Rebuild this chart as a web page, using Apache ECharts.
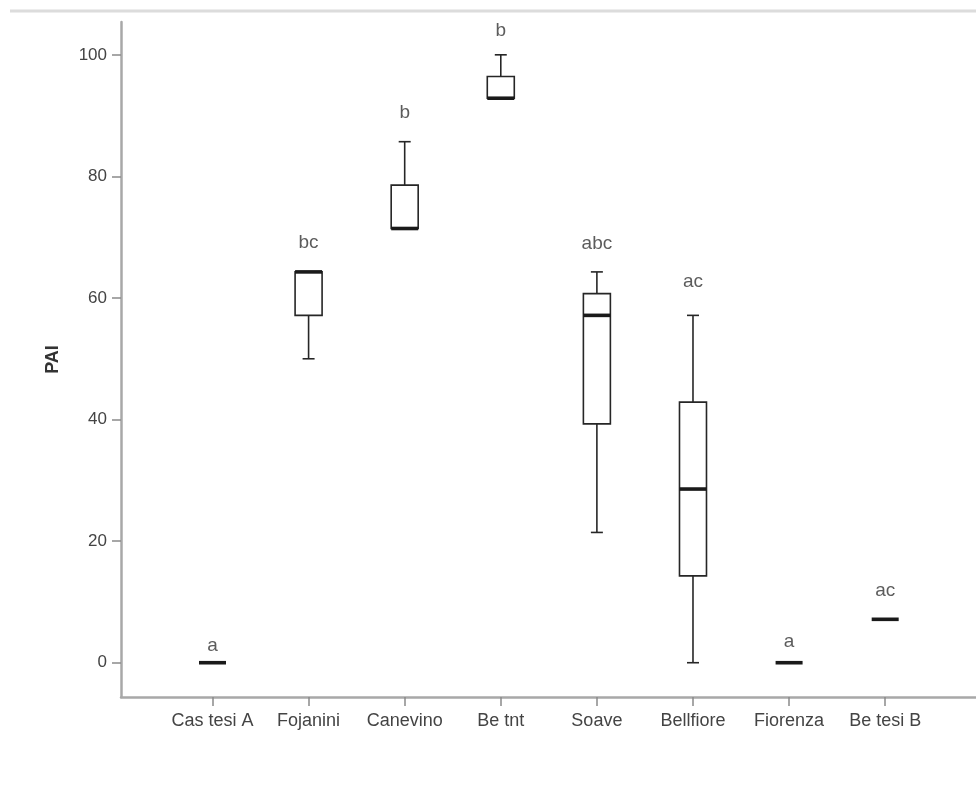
<!DOCTYPE html>
<html><head><meta charset="utf-8">
<script src="https://cdn.jsdelivr.net/npm/echarts@6/dist/echarts.min.js"></script>
<style>html,body{margin:0;padding:0;background:#fff}#c{width:976px;height:785px}</style>
</head><body><div id="c"></div>
<script>
const categories = ['Cas tesi A','Fojanini','Canevino','Be tnt','Soave','Bellfiore','Fiorenza','Be tesi B'];
const minVals    = [0, 50.00, 71.43, 92.86, 21.43, 0.00, 0, 7.14];
const q1Vals     = [0, 57.14, 71.43, 92.86, 39.29, 14.29, 0, 7.14];
const medianVals = [0, 64.29, 71.43, 92.86, 57.14, 28.57, 0, 7.14];
const q3Vals     = [0, 64.29, 78.57, 96.43, 60.71, 42.86, 0, 7.14];
const maxVals    = [0, 64.29, 85.71, 100.0, 64.29, 57.14, 0, 7.14];
const letters    = ['a','bc','b','b','abc','ac','a','ac'];
const letterY    = [2.8, 69.1, 90.4, 104.0, 68.9, 62.6, 3.4, 11.8];
const yTicks     = [0, 20, 40, 60, 80, 100];
const yName      = 'PAI';

const FONT = "'Liberation Sans', Arial, sans-serif";
const catIdx = categories.map((c, i) => i);
const boxData = categories.map((c, i) => [i, minVals[i], q1Vals[i], medianVals[i], q3Vals[i], maxVals[i]]);
const letterData = categories.map((c, i) => [i, letterY[i]]);

function renderItem(params, api) {
  const x = api.value(0);
  const mn = api.value(1), q1 = api.value(2), md = api.value(3), q3 = api.value(4), mx = api.value(5);
  const half = 13.5, cap = 6;
  const P = v => api.coord([x, v]);
  const pMin = P(mn), pQ1 = P(q1), pMd = P(md), pQ3 = P(q3), pMx = P(mx);
  const cx = pMd[0];
  const ls = { stroke: '#262626', lineWidth: 1.6, fill: null };
  const ch = [];
  if (mx > q3) {
    ch.push({ type: 'line', shape: { x1: cx, y1: pQ3[1], x2: cx, y2: pMx[1] }, style: ls });
    ch.push({ type: 'line', shape: { x1: cx - cap, y1: pMx[1], x2: cx + cap, y2: pMx[1] }, style: ls });
  }
  if (mn < q1) {
    ch.push({ type: 'line', shape: { x1: cx, y1: pQ1[1], x2: cx, y2: pMin[1] }, style: ls });
    ch.push({ type: 'line', shape: { x1: cx - cap, y1: pMin[1], x2: cx + cap, y2: pMin[1] }, style: ls });
  }
  if (q3 > q1) {
    ch.push({ type: 'rect', shape: { x: cx - half, y: pQ3[1], width: 2 * half, height: pQ1[1] - pQ3[1] },
      style: { fill: '#fff', stroke: '#262626', lineWidth: 1.6 } });
  }
  ch.push({ type: 'line', shape: { x1: cx - half, y1: pMd[1], x2: cx + half, y2: pMd[1] },
    style: { stroke: '#1a1a1a', lineWidth: 3.6 } });
  return { type: 'group', children: ch };
}

const chart = echarts.init(document.getElementById('c'), null, { renderer: 'canvas' });
chart.setOption({
  animation: false,
  backgroundColor: '#fff',
  graphic: [{ type: 'line', shape: { x1: 10, y1: 11, x2: 976, y2: 11 }, style: { stroke: '#dcdcdc', lineWidth: 3 } }],
  grid: { left: 121, right: 0, top: 22, bottom: 88, containLabel: false, outerBoundsMode: 'none' },
  xAxis: {
    type: 'value', min: -0.952, max: 7.945,
    splitLine: { show: false },
    axisLine: { show: true, onZero: false, lineStyle: { color: '#a8a8a8', width: 2.5 } },
    axisTick: { show: true, customValues: catIdx, length: 9, lineStyle: { color: '#8a8a8a', width: 1.5 } },
    axisLabel: { customValues: catIdx, formatter: v => categories[Math.round(v)], fontSize: 18, color: '#444', fontFamily: FONT, margin: 15 }
  },
  yAxis: {
    type: 'value', min: -5.64, max: 105.4,
    name: yName, nameLocation: 'middle', nameRotate: 90, nameGap: 59,
    nameTextStyle: { fontSize: 18, fontWeight: 'bold', color: '#333', fontFamily: FONT },
    splitLine: { show: false },
    axisLine: { show: true, onZero: false, lineStyle: { color: '#a8a8a8', width: 2.5 } },
    axisTick: { show: true, customValues: yTicks, length: 9, lineStyle: { color: '#8a8a8a', width: 1.5 } },
    axisLabel: { customValues: yTicks, fontSize: 17, color: '#444', fontFamily: FONT, margin: 14 }
  },
  series: [
    { type: 'custom', renderItem: renderItem, data: boxData, encode: { x: 0, y: [1, 2, 3, 4, 5] }, clip: false, z: 3 },
    { type: 'scatter', data: letterData, symbolSize: 1, itemStyle: { color: 'rgba(0,0,0,0)' }, z: 4,
      label: { show: true, position: 'inside', formatter: p => letters[p.dataIndex], fontSize: 19, color: '#333', fontFamily: FONT } }
  ]
});
</script></body></html>
